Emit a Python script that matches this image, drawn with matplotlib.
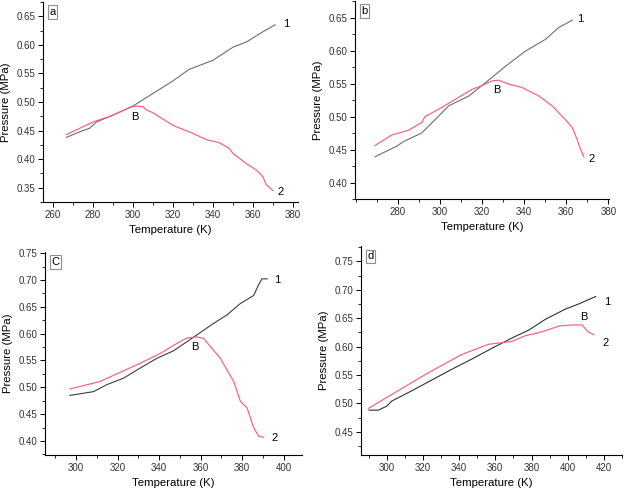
#!/usr/bin/env python3
"""Pressure vs temperature, four panels (a-d), curves 1 and 2 with point B."""

import matplotlib
matplotlib.use("Agg")
import matplotlib.pyplot as plt
from matplotlib.ticker import MultipleLocator

plt.rcParams["font.family"] = ["Liberation Sans", "DejaVu Sans"]

# Panel a
a_t1 = [266.7, 270, 275, 278.3, 281.7, 290, 300, 310, 320, 328, 340, 350, 356.7, 365, 371]
a_p1 = [0.438, 0.443, 0.450, 0.454, 0.465, 0.477, 0.493, 0.515, 0.537, 0.557, 0.573, 0.596, 0.605, 0.623, 0.635]
a_t2 = [266.7, 280, 290, 298, 301.7, 305, 306.7, 310, 320, 330, 336.7, 343, 348, 350, 356.7, 361.7, 365, 366.7, 370]
a_p2 = [0.443, 0.465, 0.477, 0.490, 0.493, 0.492, 0.486, 0.481, 0.459, 0.445, 0.434, 0.429, 0.419, 0.410, 0.392, 0.381, 0.369, 0.355, 0.345]

# Panel b
b_t1 = [269.2, 279.5, 282.7, 291.4, 298.6, 304.1, 313.7, 321.6, 331.1, 340.6, 350.2, 356.5, 362.9]
b_p1 = [0.439, 0.455, 0.462, 0.475, 0.498, 0.516, 0.531, 0.551, 0.576, 0.599, 0.617, 0.635, 0.646]
b_t2 = [269.2, 277.1, 285, 291.4, 293, 299.4, 307.3, 315.2, 320, 324.8, 327.9, 332.7, 339, 347, 353.3, 359.7, 362.9, 365.2, 366.8, 368.4]
b_p2 = [0.456, 0.472, 0.479, 0.491, 0.500, 0.511, 0.526, 0.541, 0.547, 0.554, 0.555, 0.549, 0.544, 0.531, 0.516, 0.495, 0.483, 0.465, 0.450, 0.439]

# Panel c
c_t1 = [297, 308.4, 314.8, 322.8, 330.9, 338.9, 346.9, 353.4, 359.8, 366.2, 372.7, 379.1, 385.5, 387.9, 389.5, 392]
c_p1 = [0.485, 0.492, 0.505, 0.517, 0.536, 0.554, 0.568, 0.585, 0.602, 0.619, 0.635, 0.656, 0.671, 0.691, 0.702, 0.702]
c_t2 = [297, 311.6, 321.2, 330.9, 340.5, 348.6, 353.4, 358.2, 361.4, 366.2, 369.5, 372.7, 375.9, 379.1, 382.3, 385.5, 387.9, 390.4]
c_p2 = [0.497, 0.511, 0.528, 0.545, 0.563, 0.582, 0.592, 0.594, 0.591, 0.569, 0.554, 0.532, 0.511, 0.474, 0.462, 0.425, 0.409, 0.407]

# Panel d
d_t1 = [290.2, 295.4, 300, 302.8, 313.8, 324.9, 336, 347.1, 358.2, 369.2, 378.5, 387.7, 398.8, 406.1, 415.4]
d_p1 = [0.488, 0.488, 0.495, 0.504, 0.522, 0.541, 0.560, 0.578, 0.597, 0.615, 0.629, 0.648, 0.666, 0.675, 0.688]
d_t2 = [289.8, 304.6, 323.1, 341.5, 356.3, 361.8, 369.2, 376.6, 385.8, 395.1, 402.5, 408, 409.8, 411.7, 414.5]
d_p2 = [0.491, 0.519, 0.554, 0.586, 0.604, 0.606, 0.609, 0.619, 0.626, 0.636, 0.638, 0.638, 0.631, 0.625, 0.621]

PINK = "#ff5577"

# name, rect (px: left, top, right, bottom), xlim, ylim, xticks, yticks, line1 colour, data, label positions
PANELS = [
    ("a", (43, 2, 298, 202), (255, 382.5), (0.325, 0.675), range(260, 381, 20),
     [0.35, 0.40, 0.45, 0.50, 0.55, 0.60, 0.65], "#687070",
     (a_t1, a_p1, a_t2, a_p2), (300.8, 0.474), (376.5, 0.636), (374, 0.343)),
    ("b", (355, 1, 609, 199), (259.7, 380.3), (0.375, 0.675), range(280, 381, 20),
     [0.40, 0.45, 0.50, 0.55, 0.60, 0.65], "#687070",
     (b_t1, b_p1, b_t2, b_p2), (327.1, 0.540), (366.8, 0.648), (372, 0.436)),
    ("C", (45, 252, 302, 455), (285, 408.8), (0.374, 0.752), range(300, 401, 20),
     [0.40, 0.45, 0.50, 0.55, 0.60, 0.65, 0.70, 0.75], "#3a3f3f",
     (c_t1, c_p1, c_t2, c_p2), (357.4, 0.576), (396.8, 0.699), (395.5, 0.406)),
    ("d", (361, 246, 622, 455), (285.8, 430), (0.409, 0.777), range(300, 421, 20),
     [0.45, 0.50, 0.55, 0.60, 0.65, 0.70, 0.75], "#2e3232",
     (d_t1, d_p1, d_t2, d_p2), (408.9, 0.652), (421.8, 0.679), (421, 0.607)),
]

W, H = 624, 488
fig = plt.figure(figsize=(W / 100, H / 100), dpi=100)

for name, (l, t, r, b), xlim, ylim, xt, yt, c1, (t1, p1, t2, p2), posB, pos1, pos2 in PANELS:
    ax = fig.add_axes([l / W, 1 - b / H, (r - l) / W, (b - t) / H])
    ax.plot(t1, p1, color=c1, linewidth=0.8)
    ax.plot(t2, p2, color=PINK, linewidth=0.8)
    ax.set_xlim(*xlim)
    ax.set_ylim(*ylim)
    ax.set_xticks(list(xt))
    ax.set_yticks(yt)
    ax.yaxis.set_major_formatter(plt.FormatStrFormatter("%.2f"))
    ax.xaxis.set_minor_locator(MultipleLocator(10))
    ax.yaxis.set_minor_locator(MultipleLocator(0.025))
    ax.tick_params(which="major", direction="out", length=3.5, width=0.7, labelsize=7, pad=2,
                   labelcolor="#333333")
    ax.tick_params(which="minor", direction="out", length=2, width=0.6)
    for side in ("top", "right"):
        ax.spines[side].set_visible(False)
    for side in ("left", "bottom"):
        ax.spines[side].set_linewidth(0.8)
    ax.set_xlabel("Temperature (K)", fontsize=8.2, labelpad=4)
    ax.set_ylabel("Pressure (MPa)", fontsize=8.2, labelpad=4)
    ax.text(*posB, "B", fontsize=8, ha="center", va="center")
    ax.text(*pos1, "1", fontsize=8, ha="center", va="center")
    ax.text(*pos2, "2", fontsize=8, ha="center", va="center")
    ax.text(0.025, 0.975, name, transform=ax.transAxes, fontsize=8, ha="left", va="top",
            bbox=dict(boxstyle="square,pad=0.15", facecolor="white", edgecolor="#8a9090", linewidth=0.8))

fig.savefig("out.png", dpi=100)
